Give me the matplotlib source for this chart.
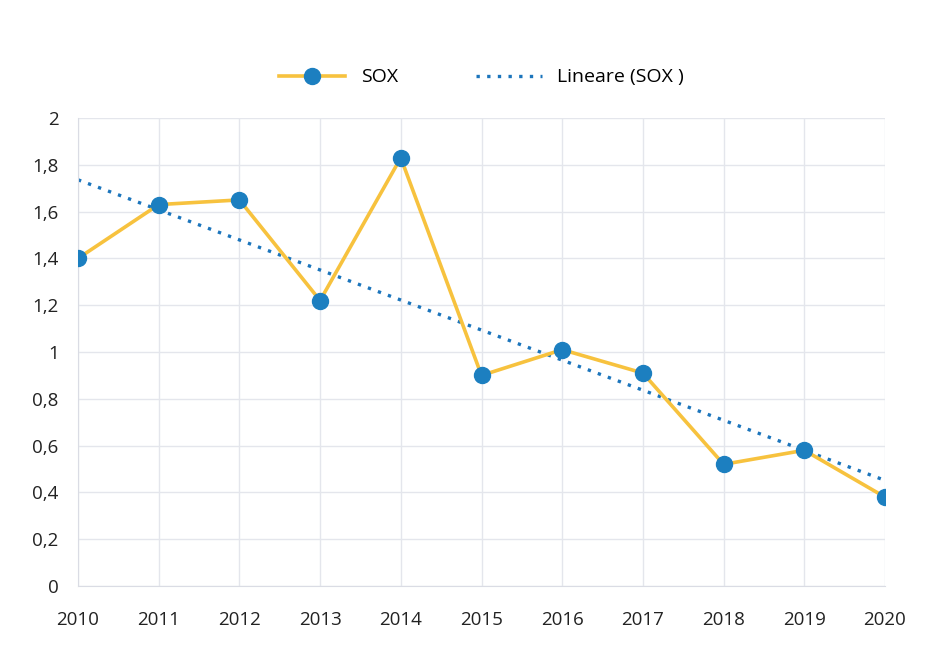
import numpy as np
import matplotlib.pyplot as plt

# data
years = [2010, 2011, 2012, 2013, 2014, 2015, 2016, 2017, 2018, 2019, 2020]
sox = [1.40, 1.63, 1.65, 1.22, 1.83, 0.90, 1.01, 0.91, 0.52, 0.58, 0.38]
y_ticks = [0, 0.2, 0.4, 0.6, 0.8, 1, 1.2, 1.4, 1.6, 1.8, 2]
y_labels = ['0', '0,2', '0,4', '0,6', '0,8', '1', '1,2', '1,4', '1,6', '1,8', '2']

plt.rcParams['font.family'] = ['Open Sans', 'DejaVu Sans']

fig = plt.figure(figsize=(9.39, 6.52), dpi=100)
ax = fig.add_axes([78/939, 1 - 586/652, (885-78)/939, (586-118)/652])

# linear trend (Excel "Lineare")
coef = np.polyfit(years, sox, 1)
trend = np.polyval(coef, years)

ax.plot(years, sox, color='#F7C23E', lw=2.6, marker='o', markersize=11.5,
        markerfacecolor='#1C7FC0', markeredgecolor='#1C7FC0', label='SOX', zorder=3)
ax.plot(years, trend, color='#1C75BC', lw=2.4, linestyle=(0, (1, 2.2)),
        label='Lineare (SOX )', zorder=2)

ax.set_xlim(2010, 2020)
ax.set_ylim(0, 2)
ax.set_xticks(years)
ax.set_xticklabels([str(y) for y in years])
ax.set_yticks(y_ticks)
ax.set_yticklabels(y_labels)
ax.tick_params(length=0, labelsize=13.5, colors='#222222')
ax.tick_params(axis='x', pad=18)
ax.tick_params(axis='y', pad=14)
ax.grid(True, color='#E4E6EC', lw=1)
for side in ['top', 'right']:
    ax.spines[side].set_visible(False)
for side in ['left', 'bottom']:
    ax.spines[side].set_color('#DADCE4')

ax.legend(loc='lower center', bbox_to_anchor=(0.5, 1.03), ncol=2, frameon=False,
          fontsize=14, columnspacing=4.0, handlelength=3.4)

fig.savefig('out.png', dpi=100)
